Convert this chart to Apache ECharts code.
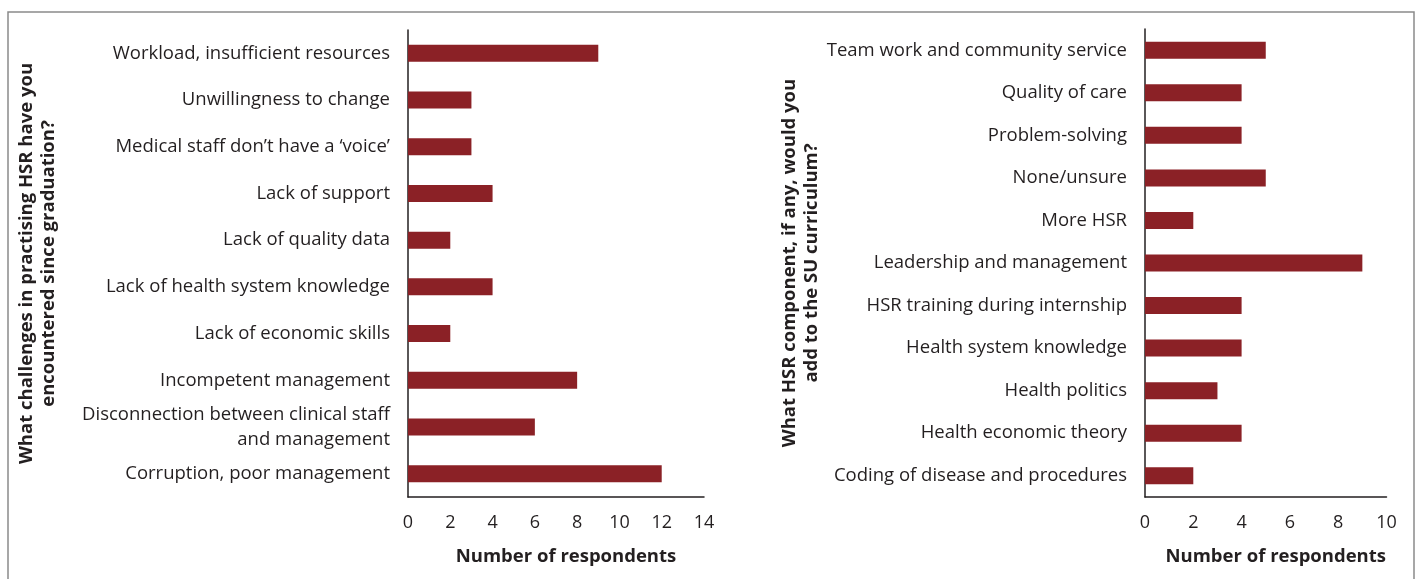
<!DOCTYPE html>
<html>
<head>
<meta charset="utf-8">
<script src="https://cdn.jsdelivr.net/npm/echarts@6/dist/echarts.min.js"></script>
<style>
html,body{margin:0;padding:0;background:#fff;}
#chart{width:1418px;height:579px;}
</style>
</head>
<body>
<div id="chart"></div>
<script>
// Left panel: challenges
const leftCategories = [
  'Workload, insufficient resources',
  'Unwillingness to change',
  'Medical staff don\u2019t have a \u2018voice\u2019',
  'Lack of support',
  'Lack of quality data',
  'Lack of health system knowledge',
  'Lack of economic skills',
  'Incompetent management',
  'Disconnection between clinical staff\nand management',
  'Corruption, poor management'
];
const leftValues = [9, 3, 3, 4, 2, 4, 2, 8, 6, 12];
const leftTicks = { min: 0, max: 14, interval: 2 };
const leftTitle = 'What challenges in practising HSR have you\nencountered since graduation?';

// Right panel: curriculum components
const rightCategories = [
  'Team work and community service',
  'Quality of care',
  'Problem-solving',
  'None/unsure',
  'More HSR',
  'Leadership and management',
  'HSR training during internship',
  'Health system knowledge',
  'Health politics',
  'Health economic theory',
  'Coding of disease and procedures'
];
const rightValues = [5, 4, 4, 5, 2, 9, 4, 4, 3, 4, 2];
const rightTicks = { min: 0, max: 10, interval: 2 };
const rightTitle = 'What HSR component, if any, would you\nadd to the SU curriculum?';

const xTitle = 'Number of respondents';

const textColor = '#231f20';
const barColor = '#8b2126';
const fontFamily = '"Open Sans", "Liberation Sans", sans-serif';

function xAxisCfg(gridIndex, ticks) {
  return {
    type: 'value', gridIndex: gridIndex,
    min: ticks.min, max: ticks.max, interval: ticks.interval,
    name: xTitle, nameLocation: 'middle', nameGap: 50,
    nameTextStyle: { fontFamily: fontFamily, fontSize: 18.5, fontWeight: 'bold', color: textColor, padding: [0, 0, 0, 20] },
    axisLine: { show: true, lineStyle: { color: '#231f20', width: 1.5 } },
    axisTick: { show: false },
    splitLine: { show: false },
    axisLabel: { fontFamily: fontFamily, fontSize: 18, color: textColor, margin: 17 }
  };
}
function yAxisCfg(gridIndex, cats, title, gap) {
  return {
    type: 'category', gridIndex: gridIndex, data: cats, inverse: true,
    name: title, nameLocation: 'middle', nameGap: gap, nameRotate: 90,
    nameTextStyle: { fontFamily: fontFamily, fontSize: 18.5, fontWeight: 'bold', color: textColor, lineHeight: 22, align: 'center' },
    axisLine: { show: true, lineStyle: { color: '#231f20', width: 1.5 } },
    axisTick: { show: false },
    axisLabel: { fontFamily: fontFamily, fontSize: 18.5, color: textColor, margin: 18, lineHeight: 25 }
  };
}

const chart = echarts.init(document.getElementById('chart'), null, { renderer: 'canvas' });
chart.setOption({
  animation: false,
  backgroundColor: '#fff',
  graphic: [{
    type: 'rect', shape: { x: 8, y: 12, width: 1406, height: 600 },
    style: { fill: 'none', stroke: '#8a8a8a', lineWidth: 1.5 }, silent: true, z: -1
  }],
  grid: [
    { left: 408, top: 30, width: 296, height: 467 },
    { left: 1145, top: 29, width: 241.5, height: 468 }
  ],
  xAxis: [xAxisCfg(0, leftTicks), xAxisCfg(1, rightTicks)],
  yAxis: [yAxisCfg(0, leftCategories, leftTitle, 348), yAxisCfg(1, rightCategories, rightTitle, 318)],
  series: [
    { type: 'bar', xAxisIndex: 0, yAxisIndex: 0, data: leftValues, barWidth: 17, itemStyle: { color: barColor } },
    { type: 'bar', xAxisIndex: 1, yAxisIndex: 1, data: rightValues, barWidth: 17, itemStyle: { color: barColor } }
  ]
});
</script>
</body>
</html>
